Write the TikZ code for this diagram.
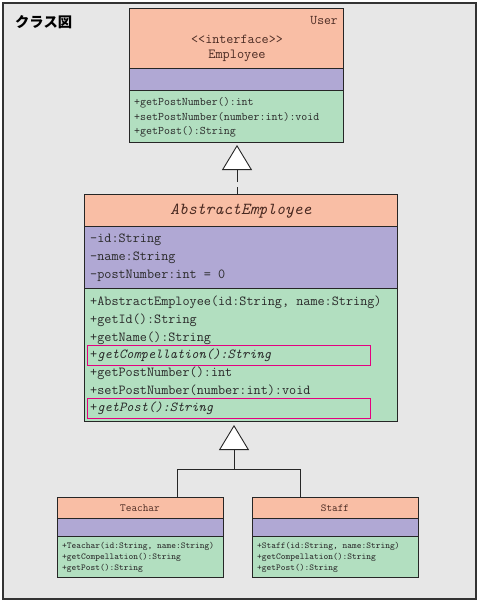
\documentclass[tikz,border=0pt]{standalone}
\usepackage{fontspec}
\usetikzlibrary{arrows.meta}
\newfontfamily\cjkf{Noto Sans CJK JP}
\definecolor{hdr}{HTML}{F9BEA5}
\definecolor{att}{HTML}{B0A8D4}
\definecolor{ops}{HTML}{B2DFC0}
\definecolor{bg}{HTML}{E7E7E7}
\definecolor{mag}{HTML}{E4007F}
\definecolor{txtc}{HTML}{2A2A2A}
\definecolor{htxt}{HTML}{4A2A22}
\tikzset{
  comp/.style={draw=black!85, line width=0.9pt, inner sep=0pt, outer sep=0pt, anchor=north west},
  txt/.style={inner sep=0pt, anchor=west, text=txtc},
  htx/.style={inner sep=0pt, text=htxt},
  hilite/.style={draw=mag, line width=0.9pt, inner sep=0pt, anchor=north west},
  inh/.style={line width=0.9pt, draw=black!85, -{Triangle[open, length=25pt, width=30pt, fill=white, line width=0.9pt]}},
  fsA/.style={font=\ttfamily\fontsize{11.6}{13}\selectfont},
  fsB/.style={font=\ttfamily\fontsize{13.8}{16}\selectfont},
  fsC/.style={font=\ttfamily\fontsize{9.05}{10}\selectfont},
}
\begin{document}
\begin{tikzpicture}[x=1pt, y=-1pt]
\useasboundingbox (0,0) rectangle (480,603);
\node[draw=black!80, line width=1.3pt, fill=bg, inner sep=0pt, outer sep=0pt, anchor=north west, minimum width=473pt, minimum height=596pt] (frame) at (3,3) {};
\node[inner sep=0pt, anchor=west, font=\cjkf\bfseries\fontsize{14.3}{16}\selectfont] (title) at (15,22) {クラス図};

% Employee interface
\node[comp, fill=hdr, minimum width=214pt, minimum height=60pt] (empH) at (129,8) {};
\node[comp, fill=att, minimum width=214pt, minimum height=22pt] (empA) at (129,68) {};
\node[comp, fill=ops, minimum width=214pt, minimum height=52pt] (empO) at (129,90) {};
\node[htx, anchor=east, font=\ttfamily\fontsize{13.3}{15}\selectfont] (empU) at (338,21) {User};
\node[htx, font=\ttfamily\fontsize{13.7}{15}\selectfont] (empS) at (237,39) {<<interface>>};
\node[htx, font=\ttfamily\fontsize{13.9}{15}\selectfont] (empN) at (237,56) {Employee};
\node[txt, fsA] (e1) at (134,103) {+getPostNumber():int};
\node[txt, fsA] (e2) at (134,117) {+setPostNumber(number:int):void};
\node[txt, fsA] (e3) at (134,132) {+getPost():String};

% AbstractEmployee
\node[comp, fill=hdr, minimum width=313pt, minimum height=32pt] (absH) at (84,194) {};
\node[comp, fill=att, minimum width=313pt, minimum height=62pt] (absA) at (84,226) {};
\node[comp, fill=ops, minimum width=313pt, minimum height=133pt] (absO) at (84,288) {};
\node[htx, font=\ttfamily\itshape\fontsize{16.8}{19}\selectfont] (absN) at (241,211) {AbstractEmployee};
\node[txt, fsB] (a1) at (90,240) {-id:String};
\node[txt, fsB] (a2) at (90,258) {-name:String};
\node[txt, fsB] (a3) at (90,276) {-postNumber:int = 0};
\node[hilite, minimum width=283pt, minimum height=20pt] (hl1) at (87,345) {};
\node[hilite, minimum width=283pt, minimum height=20pt] (hl2) at (87,398) {};
\node[txt, fsB] (m1) at (90,302) {+AbstractEmployee(id:String, name:String)};
\node[txt, fsB] (m2) at (90,320) {+getId():String};
\node[txt, fsB] (m3) at (90,338) {+getName():String};
\node[txt, fsB] (m4) at (90,355) {+\textit{getCompellation():String}};
\node[txt, fsB] (m5) at (90,373) {+getPostNumber():int};
\node[txt, fsB] (m6) at (90,390) {+setPostNumber(number:int):void};
\node[txt, fsB] (m7) at (90,408) {+\textit{getPost():String}};

% Teachar
\node[comp, fill=hdr, minimum width=166pt, minimum height=21pt] (teaH) at (57,497) {};
\node[comp, fill=att, minimum width=166pt, minimum height=18pt] (teaA) at (57,518) {};
\node[comp, fill=ops, minimum width=166pt, minimum height=41pt] (teaO) at (57,536) {};
\node[htx, font=\ttfamily\fontsize{11}{12}\selectfont] (teaN) at (140,508) {Teachar};
\node[txt, fsC] (t1) at (62,546) {+Teachar(id:String, name:String)};
\node[txt, fsC] (t2) at (62,557) {+getCompellation():String};
\node[txt, fsC] (t3) at (62,568) {+getPost():String};

% Staff
\node[comp, fill=hdr, minimum width=166pt, minimum height=21pt] (stfH) at (252,497) {};
\node[comp, fill=att, minimum width=166pt, minimum height=18pt] (stfA) at (252,518) {};
\node[comp, fill=ops, minimum width=166pt, minimum height=41pt] (stfO) at (252,536) {};
\node[htx, font=\ttfamily\fontsize{10.7}{12}\selectfont] (stfN) at (335,508) {Staff};
\node[txt, fsC] (s1) at (257,546) {+Staff(id:String, name:String)};
\node[txt, fsC] (s2) at (257,557) {+getCompellation():String};
\node[txt, fsC] (s3) at (257,568) {+getPost():String};

% realization: AbstractEmployee -> Employee
\coordinate (r1) at (absH.north -| 237,0);
\coordinate (r2) at (empO.south -| 237,0);
\draw[inh, dash pattern=on 7pt off 5pt on 14pt off 5pt, shorten >=3pt] (r1) -- (r2);

% generalization: Teachar, Staff -> AbstractEmployee
\coordinate (tj) at (177,469);
\coordinate (sj) at (300,469);
\coordinate (mj) at (234,469);
\coordinate (g2) at (absO.south -| 234,0);
\draw[line width=0.9pt, draw=black!85] (teaH.north -| tj) -- (tj) -- (sj) -- (stfH.north -| sj);
\draw[inh, shorten >=4pt] (mj) -- (g2);
\end{tikzpicture}
\end{document}
